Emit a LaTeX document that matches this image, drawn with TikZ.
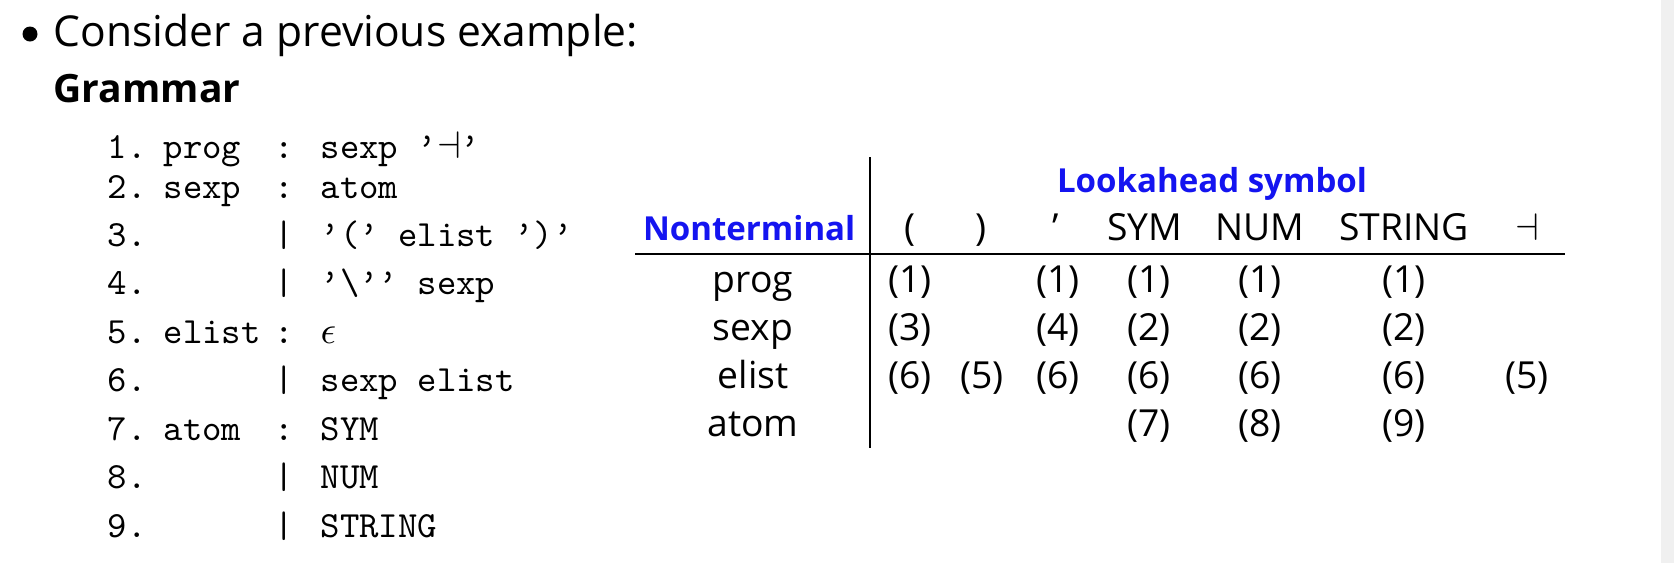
\documentclass[tikz,border=0pt]{standalone}
\usepackage{amsmath}
\usepackage{amssymb}
\usepackage{fontspec}
\setmainfont{Open Sans}
\definecolor{headblue}{RGB}{20,20,240}
\tikzset{
  gram/.style={anchor=base west, inner sep=0pt, font=\fontsize{10.5}{12}\ttfamily},
  cell/.style={anchor=base, inner sep=0pt, font=\fontsize{10.6}{12}\selectfont},
  head/.style={inner sep=0pt, text=headblue, font=\fontsize{9.4}{11}\bfseries},
}

\begin{document}
\begin{tikzpicture}[x=0.01cm, y=-0.01cm]
\useasboundingbox (0,0) rectangle (1674,563);
\fill[black!6] (1661,0) rectangle (1674,563);
\fill (30,34) circle (7.5);
\path
(53,46) node[anchor=base west, inner sep=0pt, font=\fontsize{12.1}{14}\selectfont] (intro) {Consider a previous example:};
\path
(53,102) node[anchor=base west, inner sep=0pt, font=\fontsize{11.1}{14}\bfseries] (gtitle) {Grammar};
% grammar rules
\path
(107,158) node[gram] (n1) {1.}
(163,158) node[gram] (l1) {prog}
(274,158) node[gram] (s1) {:}
(320,158) node[gram] (r1) {sexp ’$\dashv$’};
\path
(107,198) node[gram] (n2) {2.}
(163,198) node[gram] (l2) {sexp}
(274,198) node[gram] (s2) {:}
(320,198) node[gram] (r2) {atom};
\path
(107,246) node[gram] (n3) {3.}
(274,246) node[gram] (s3) {|}
(320,246) node[gram] (r3) {’(’ elist ’)’};
\path
(107,294) node[gram] (n4) {4.}
(274,294) node[gram] (s4) {|}
(320,294) node[gram] (r4) {’\textbackslash’’ sexp};
\path
(107,343) node[gram] (n5) {5.}
(163,343) node[gram] (l5) {elist}
(274,343) node[gram] (s5) {:}
(320,343) node[gram] (r5) {$\epsilon$};
\path
(107,391) node[gram] (n6) {6.}
(274,391) node[gram] (s6) {|}
(320,391) node[gram] (r6) {sexp elist};
\path
(107,440) node[gram] (n7) {7.}
(163,440) node[gram] (l7) {atom}
(274,440) node[gram] (s7) {:}
(320,440) node[gram] (r7) {SYM};
\path
(107,488) node[gram] (n8) {8.}
(274,488) node[gram] (s8) {|}
(320,488) node[gram] (r8) {NUM};
\path
(107,537) node[gram] (n9) {9.}
(274,537) node[gram] (s9) {|}
(320,537) node[gram] (r9) {STRING};
% parse table
\coordinate (vtop) at (870,157);
\coordinate (vbot) at (870,448);
\coordinate (hleft) at (635,254);
\coordinate (hright) at (1565,254);
\draw[line width=0.6pt] (vtop) -- (vbot);
\draw[line width=0.6pt] (hleft) -- (hright);
\path
(1212,192) node[head, anchor=base] (look) {Lookahead symbol};
\path
(856,240) node[head, anchor=base east] (nonterm) {Nonterminal};
\path
(910,240) node[cell] (h1) {(}
(981,240) node[cell] (h2) {)}
(1056,240) node[cell] (h3) {’}
(1145,240) node[cell] (h4) {SYM}
(1260,240) node[cell] (h5) {NUM}
(1404,240) node[cell] (h6) {STRING}
(1527,240) node[cell] (h7) {$\dashv$};
\path
(753,292) node[cell] (prog) {prog}
(753,340) node[cell] (sexp) {sexp}
(753,388) node[cell] (elist) {elist}
(753,436) node[cell] (atom) {atom};
\path
(910,292) node[cell] (p1) {(1)}
(1058,292) node[cell] (p3) {(1)}
(1149,292) node[cell] (p4) {(1)}
(1260,292) node[cell] (p5) {(1)}
(1404,292) node[cell] (p6) {(1)};
\path
(910,340) node[cell] (s1) {(3)}
(1058,340) node[cell] (s3) {(4)}
(1149,340) node[cell] (s4) {(2)}
(1260,340) node[cell] (s5) {(2)}
(1404,340) node[cell] (s6) {(2)};
\path
(910,388) node[cell] (e1) {(6)}
(982,388) node[cell] (e2) {(5)}
(1058,388) node[cell] (e3) {(6)}
(1149,388) node[cell] (e4) {(6)}
(1260,388) node[cell] (e5) {(6)}
(1404,388) node[cell] (e6) {(6)}
(1527,388) node[cell] (e7) {(5)};
\path
(1149,436) node[cell] (a4) {(7)}
(1260,436) node[cell] (a5) {(8)}
(1404,436) node[cell] (a6) {(9)};
\end{tikzpicture}
\end{document}
